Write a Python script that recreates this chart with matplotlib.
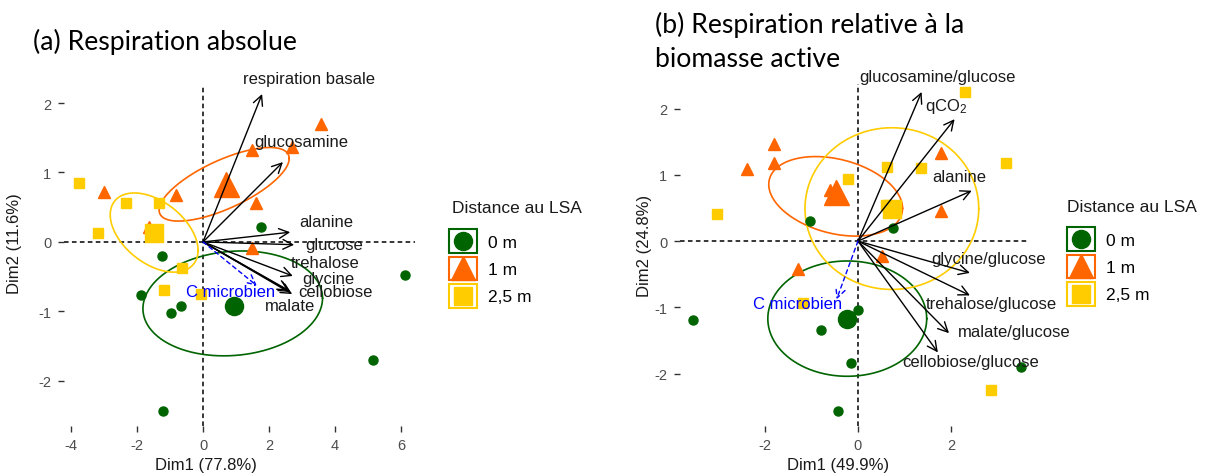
import numpy as np
import matplotlib
matplotlib.use('Agg')
import matplotlib.pyplot as plt
from matplotlib.patches import Rectangle
from matplotlib.lines import Line2D

plt.rcParams['font.family'] = ['Liberation Sans', 'DejaVu Sans']
plt.rcParams['mathtext.default'] = 'regular'
plt.rcParams['axes.unicode_minus'] = False

groups = ['0 m', '1 m', '2,5 m']
colors = ['#006400', '#FF6600', '#FFCC00']
markers = ['o', '^', 's']

# ---- (a) respiration absolue : individuals per group (0 m, 1 m, 2,5 m)
a_x = [[1.76, -1.24, 6.12, -1.88, -0.97, -0.67, 5.15, -1.21],
       [3.58, 2.70, 1.48, -3.00, -0.83, 1.60, 1.48, 0.60, -1.65],
       [-3.76, -2.33, -1.33, -3.18, -0.64, -1.18, -0.06, -1.50]]
a_y = [[0.22, -0.20, -0.47, -0.76, -1.02, -0.92, -1.70, -2.43],
       [1.70, 1.37, 1.32, 0.72, 0.68, 0.56, -0.09, 0.75, 0.22],
       [0.85, 0.56, 0.56, 0.13, -0.37, -0.69, -0.75, 0.15]]
a_cent_x = [0.94, 0.70, -1.48]
a_cent_y = [-0.92, 0.83, 0.13]
# ellipses: centre, half extent x, half extent y, correlation
a_ell = [(0.90, -0.885, 2.72, 0.755, 0.10),
         (0.64, 0.83, 1.97, 0.53, 0.70),
         (-1.48, 0.135, 1.33, 0.57, -0.45)]

a_vars = ['respiration basale', 'glucosamine', 'alanine', 'glucose',
          'trehalose', 'glycine', 'cellobiose', 'malate']
a_tip_x = [1.79, 2.42, 2.64, 2.76, 2.72, 2.64, 2.70, 2.60]
a_tip_y = [2.13, 1.15, 0.14, -0.04, -0.49, -0.72, -0.75, -0.70]
a_lab_x = [3.20, 2.96, 3.72, 3.97, 3.70, 3.80, 4.00, 2.64]
a_lab_y = [2.36, 1.44, 0.29, -0.03, -0.30, -0.53, -0.72, -0.91]
a_sup = (1.63, -0.63, 0.83, -0.71)

# ---- (b) respiration relative a la biomasse active
b_x = [[-1.03, 0.75, 0.00, -3.55, -0.80, -0.15, 3.50, -0.43],
       [-1.81, -1.81, -2.39, 1.78, 1.78, 0.52, -1.29, -0.60],
       [2.30, 3.18, 0.62, 1.35, -0.22, -3.03, 2.86, -1.18, 0.60]]
b_y = [[0.30, 0.20, -1.04, -1.19, -1.34, -1.84, -1.90, -2.57],
       [1.47, 1.18, 1.09, 1.33, 0.45, -0.23, -0.42, 0.77],
       [2.25, 1.18, 1.12, 1.10, 0.94, 0.41, -2.24, -0.94, 0.55]]
b_cent_x = [-0.24, -0.47, 0.73]
b_cent_y = [-1.18, 0.74, 0.48]
b_ell = [(-0.23, -1.17, 1.71, 0.87, 0.0),
         (-0.48, 0.675, 1.44, 0.60, -0.30),
         (0.73, 0.49, 1.87, 1.22, 0.0)]

b_vars = ['glucosamine/glucose', 'qCO$_2$', 'alanine', 'glycine/glucose',
          'trehalose/glucose', 'malate/glucose', 'cellobiose/glucose']
b_tip_x = [1.37, 2.08, 2.45, 2.41, 2.41, 1.96, 1.72]
b_tip_y = [2.25, 1.84, 0.76, -0.48, -0.82, -1.39, -1.68]
b_lab_x = [1.72, 1.89, 2.17, 2.80, 2.86, 3.36, 2.42]
b_lab_y = [2.49, 2.04, 0.98, -0.27, -0.94, -1.37, -1.81]
b_sup = (-0.46, -0.88, -1.31, -0.94)


class KeyHandler:
    # ggplot-like key: coloured box outline with the group marker inside
    def legend_artist(self, legend, orig_handle, fontsize, handlebox):
        x0, y0 = handlebox.xdescent, handlebox.ydescent
        w, h = handlebox.width, handlebox.height
        c = orig_handle.get_color()
        rect = Rectangle((-x0 + 0.75, -y0 + 0.75), w - 1.5, h - 1.5,
                         facecolor='white', edgecolor=c, lw=1.5,
                         transform=handlebox.get_transform())
        mk = Line2D([-x0 + w / 2], [-y0 + h / 2], ls='none',
                    marker=orig_handle.get_marker(), color=c,
                    ms=orig_handle.get_markersize(),
                    transform=handlebox.get_transform())
        handlebox.add_artist(rect)
        handlebox.add_artist(mk)
        return rect


def biplot(ax, px, py, cx, cy, ell, vars_, tx, ty, lx, ly, sup):
    ax.axhline(0, color='black', lw=1.1, ls=(0, (3, 2.2)), zorder=1)
    ax.axvline(0, color='black', lw=1.1, ls=(0, (3, 2.2)), zorder=1)
    t = np.linspace(0, 2 * np.pi, 200)
    for (ex, ey, hx, hy, r), c in zip(ell, colors):
        ax.plot(ex + hx * np.cos(t),
                ey + hy * (r * np.cos(t) + np.sqrt(1 - r * r) * np.sin(t)),
                color=c, lw=1.2, zorder=2)
    small = [6.5, 8.5, 6.5]
    big = [13, 18, 13]
    for i in range(3):
        ax.plot(px[i], py[i], ls='none', marker=markers[i], color=colors[i],
                ms=small[i], zorder=3)
        ax.plot(cx[i], cy[i], ls='none', marker=markers[i], color=colors[i],
                ms=big[i], zorder=3)
    for v, x, y, x2, y2 in zip(vars_, tx, ty, lx, ly):
        ax.annotate('', xy=(x, y), xytext=(0, 0),
                    arrowprops=dict(arrowstyle='->,head_length=0.7,head_width=0.35',
                                    lw=1, color='black', shrinkA=0, shrinkB=0),
                    zorder=4)
        ax.text(x2, y2, v, ha='center', va='center', fontsize=12,
                color='#1a1a1a', clip_on=False, zorder=5)
    ax.annotate('', xy=(sup[0], sup[1]), xytext=(0, 0),
                arrowprops=dict(arrowstyle='->,head_length=0.7,head_width=0.35',
                                lw=1, color='blue', ls=(0, (3, 2.5)),
                                shrinkA=0, shrinkB=0), zorder=4)
    ax.text(sup[2], sup[3], 'C microbien', ha='center', va='center',
            fontsize=12, color='blue', clip_on=False, zorder=5)
    for s in ax.spines.values():
        s.set_visible(False)
    ax.tick_params(length=4, width=1, color='#333333', labelcolor='#4D4D4D',
                   labelsize=10.5, pad=5)


fig = plt.figure(figsize=(12.15, 4.77), dpi=100)
ax1 = fig.add_axes([64 / 1215, 1 - 427 / 477, 351 / 1215, 340 / 477])
ax2 = fig.add_axes([680 / 1215, 1 - 427 / 477, 348 / 1215, 342 / 477])

biplot(ax1, a_x, a_y, a_cent_x, a_cent_y, a_ell, a_vars,
       a_tip_x, a_tip_y, a_lab_x, a_lab_y, a_sup)
ax1.set_xlim(-4.21, 6.42)
ax1.set_ylim(-2.65, 2.245)
ax1.set_xticks([-4, -2, 0, 2, 4, 6])
ax1.set_yticks([-2, -1, 0, 1, 2])
ax1.set_xlabel('Dim1 (77.8%)', fontsize=12, color='#1a1a1a')
ax1.set_ylabel('Dim2 (11.6%)', fontsize=12, color='#1a1a1a')
ax1.xaxis.set_label_coords(0.405, -0.09)
ax1.yaxis.set_label_coords(-0.12, 0.54)

biplot(ax2, b_x, b_y, b_cent_x, b_cent_y, b_ell, b_vars,
       b_tip_x, b_tip_y, b_lab_x, b_lab_y, b_sup)
ax2.set_xlim(-3.83, 3.66)
ax2.set_ylim(-2.79, 2.37)
ax2.set_xticks([-2, 0, 2])
ax2.set_yticks([-2, -1, 0, 1, 2])
ax2.set_xlabel('Dim1 (49.9%)', fontsize=12, color='#1a1a1a')
ax2.set_ylabel('Dim2 (24.8%)', fontsize=12, color='#1a1a1a')
ax2.xaxis.set_label_coords(0.454, -0.09)
ax2.yaxis.set_label_coords(-0.08, 0.53)

# legends (title drawn separately to get ggplot spacing)
handles = [Line2D([], [], ls='none', marker=m, color=c, ms=ms)
           for c, m, ms in zip(colors, markers, [13, 17, 13])]
pad = 0.45 * 12.5 * 100 / 72   # frame padding in pixels
for tx_, ty_, xl, yl in [(452, 209, 448, 229), (1067, 208, 1066, 227)]:
    leg = fig.legend(handles, groups, loc='upper left',
                     bbox_to_anchor=((xl - pad) / 1215, 1 - (yl - pad) / 477),
                     handler_map={Line2D: KeyHandler()},
                     handlelength=1.73, handleheight=1.925, labelspacing=0.086,
                     handletextpad=0.58, borderpad=0.45, borderaxespad=0,
                     fontsize=12.5, frameon=True, fancybox=False)
    leg.get_frame().set_facecolor('white')
    leg.get_frame().set_linewidth(0)
    fig.text(tx_ / 1215, 1 - ty_ / 477, 'Distance au LSA', fontsize=12.5,
             va='center', ha='left', color='#1a1a1a', zorder=6)

# panel titles
fig.text(33 / 1215, 1 - 50 / 477, '(a) Respiration absolue', fontsize=19.2,
         family='Lato', va='baseline')
fig.text(655 / 1215, 1 - 33 / 477, '(b) Respiration relative à la',
         fontsize=19.2, family='Lato', va='baseline')
fig.text(655 / 1215, 1 - 67 / 477, 'biomasse active', fontsize=19.2,
         family='Lato', va='baseline')

fig.savefig('out.png', dpi=100)
